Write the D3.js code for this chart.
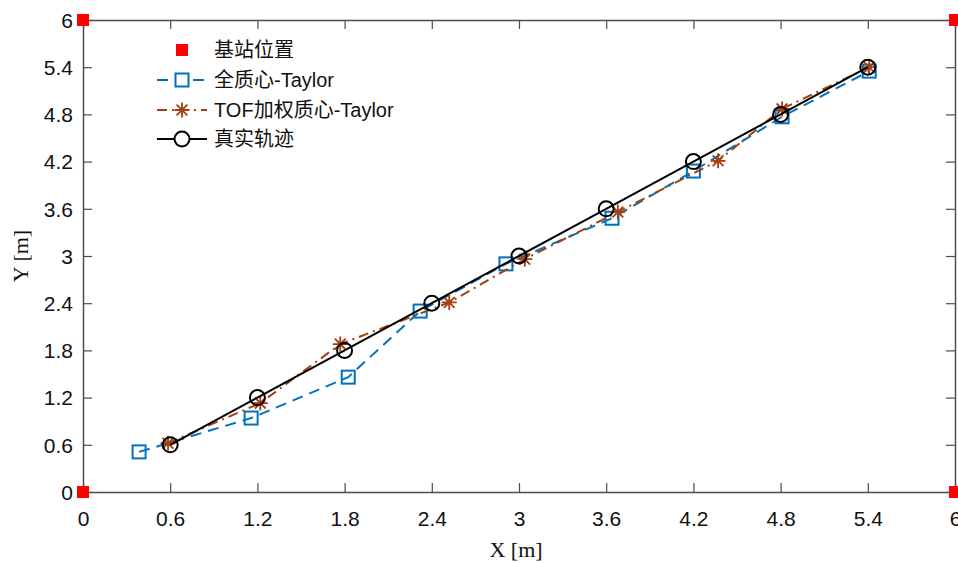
<!DOCTYPE html>
<html><head><meta charset="utf-8">
<script src="https://cdn.jsdelivr.net/npm/d3@7/dist/d3.min.js"></script>
<style>body{margin:0;background:#fff;} svg{display:block;}</style>
</head><body>
<svg id="c" width="958" height="563"></svg>
<script>
const ticks = [0,0.6,1.2,1.8,2.4,3,3.6,4.2,4.8,5.4,6];
const baseX = [0,0,6,6];
const baseY = [0,6,0,6];
const fullX = [0.386,1.157,1.825,2.32,2.91,3.64,4.20,4.81,5.41];
const fullY = [0.51,0.94,1.46,2.30,2.90,3.48,4.08,4.77,5.35];
const tofX = [0.585,1.22,1.77,2.52,3.04,3.68,4.37,4.81,5.41];
const tofY = [0.62,1.13,1.88,2.41,2.96,3.56,4.21,4.87,5.40];
const trueX = [0.6,1.2,1.8,2.4,3,3.6,4.2,4.8,5.4];
const trueY = [0.6,1.2,1.8,2.4,3,3.6,4.2,4.8,5.4];
const names = ["基站位置","全质心-Taylor","TOF加权质心-Taylor","真实轨迹"];

const svg = d3.select("#c");
const L=83, R=955, T=20, B=492;
const x = d3.scaleLinear().domain([0,6]).range([L,R]);
const y = d3.scaleLinear().domain([0,6]).range([B,T]);
const axisCol = "#4d4d4d";
const font = "'Liberation Sans', Arial, 'Noto Sans CJK SC', sans-serif";
const blue="#0072BD", brown="#A2400F";

// axes
const gx = svg.append("g").attr("transform",`translate(0,${B})`)
  .call(d3.axisBottom(x).tickValues(ticks).tickFormat(d=>String(d)).tickSizeInner(-9).tickSizeOuter(0).tickPadding(19));
const gxt = svg.append("g").attr("transform",`translate(0,${T})`)
  .call(d3.axisTop(x).tickValues(ticks).tickFormat("").tickSizeInner(-9).tickSizeOuter(0));
const gy = svg.append("g").attr("transform",`translate(${L},0)`)
  .call(d3.axisLeft(y).tickValues(ticks).tickFormat(d=>String(d)).tickSizeInner(-9).tickSizeOuter(0).tickPadding(10));
const gyr = svg.append("g").attr("transform",`translate(${R},0)`)
  .call(d3.axisRight(y).tickValues(ticks).tickFormat("").tickSizeInner(-9).tickSizeOuter(0));
[gx,gxt,gy,gyr].forEach(g=>{
  g.selectAll("path").attr("stroke",axisCol).attr("stroke-width",1.5);
  g.selectAll("line").attr("stroke",axisCol).attr("stroke-width",1.2);
  g.selectAll("text").attr("fill","#111").style("font-family",font).style("font-size","21px");
});
gy.selectAll("text").attr("dy","0.35em");

// axis labels
svg.append("text").attr("x",(L+R)/2-3).attr("y",557).attr("text-anchor","middle")
  .style("font-family","'Liberation Serif','Times New Roman',serif").style("font-size","22px").attr("fill","#111").text("X [m]");
svg.append("text").attr("transform",`translate(28,${(T+B)/2}) rotate(-90)`).attr("text-anchor","middle")
  .style("font-family","'Liberation Serif','Times New Roman',serif").style("font-size","22px").attr("fill","#111").text("Y [m]");

function pts(xs,ys){return xs.map((v,i)=>[v,ys[i]]);}
const line = d3.line().x(d=>x(d[0])).y(d=>y(d[1]));

function star(g,cx,cy,s,col){
  const h=s/2, d=h*0.72;
  g.append("path").attr("d",`M${cx-h},${cy}L${cx+h},${cy}M${cx},${cy-h}L${cx},${cy+h}M${cx-d},${cy-d}L${cx+d},${cy+d}M${cx-d},${cy+d}L${cx+d},${cy-d}`)
    .attr("stroke",col).attr("stroke-width",1.8).attr("fill","none");
}

// full centroid
const fp = pts(fullX,fullY);
svg.append("path").attr("d",line(fp)).attr("fill","none").attr("stroke",blue).attr("stroke-width",2).attr("stroke-dasharray","11,7");
svg.selectAll(".sq").data(fp).enter().append("rect")
  .attr("x",d=>x(d[0])-6.5).attr("y",d=>y(d[1])-6.5).attr("width",13).attr("height",13)
  .attr("fill","none").attr("stroke",blue).attr("stroke-width",2);

// TOF
const tp = pts(tofX,tofY);
svg.append("path").attr("d",line(tp)).attr("fill","none").attr("stroke",brown).attr("stroke-width",2).attr("stroke-dasharray","10,5,2,5");
const sg = svg.append("g");
tp.forEach(d=>star(sg,x(d[0]),y(d[1]),15,brown));

// true
const rp = pts(trueX,trueY);
svg.append("path").attr("d",line(rp)).attr("fill","none").attr("stroke","#000").attr("stroke-width",2);
svg.selectAll(".ci").data(rp).enter().append("circle")
  .attr("cx",d=>x(d[0])).attr("cy",d=>y(d[1])).attr("r",7.5)
  .attr("fill","none").attr("stroke","#000").attr("stroke-width",2);

// base stations
svg.selectAll(".bs").data(pts(baseX,baseY)).enter().append("rect")
  .attr("x",d=>x(d[0])-6).attr("y",d=>y(d[1])-6).attr("width",12).attr("height",12).attr("fill","#FF0000");

// legend
const lg = svg.append("g");
const rowsY=[50,80,110,139];
const lx0=157, lx1=207, lmx=182, tx=214;
lg.append("rect").attr("x",lmx-6).attr("y",rowsY[0]-6).attr("width",12).attr("height",12).attr("fill","#FF0000");
lg.append("line").attr("x1",lx0).attr("x2",lx1).attr("y1",rowsY[1]).attr("y2",rowsY[1]).attr("stroke",blue).attr("stroke-width",2).attr("stroke-dasharray","11,7");
lg.append("rect").attr("x",lmx-6.5).attr("y",rowsY[1]-6.5).attr("width",13).attr("height",13).attr("fill","#fff").attr("stroke",blue).attr("stroke-width",2);
lg.append("line").attr("x1",lx0).attr("x2",lx1).attr("y1",rowsY[2]).attr("y2",rowsY[2]).attr("stroke",brown).attr("stroke-width",2).attr("stroke-dasharray","10,5,2,5");
star(lg,lmx,rowsY[2],15,brown);
lg.append("line").attr("x1",lx0).attr("x2",lx1).attr("y1",rowsY[3]).attr("y2",rowsY[3]).attr("stroke","#000").attr("stroke-width",2);
lg.append("circle").attr("cx",lmx).attr("cy",rowsY[3]).attr("r",7.5).attr("fill","#fff").attr("stroke","#000").attr("stroke-width",2);
names.forEach((n,i)=>{
  lg.append("text").attr("x",tx).attr("y",rowsY[i]).attr("dy","0.35em")
    .style("font-family",font).style("font-size","20px").attr("fill","#111").text(n);
});
</script>
</body></html>
